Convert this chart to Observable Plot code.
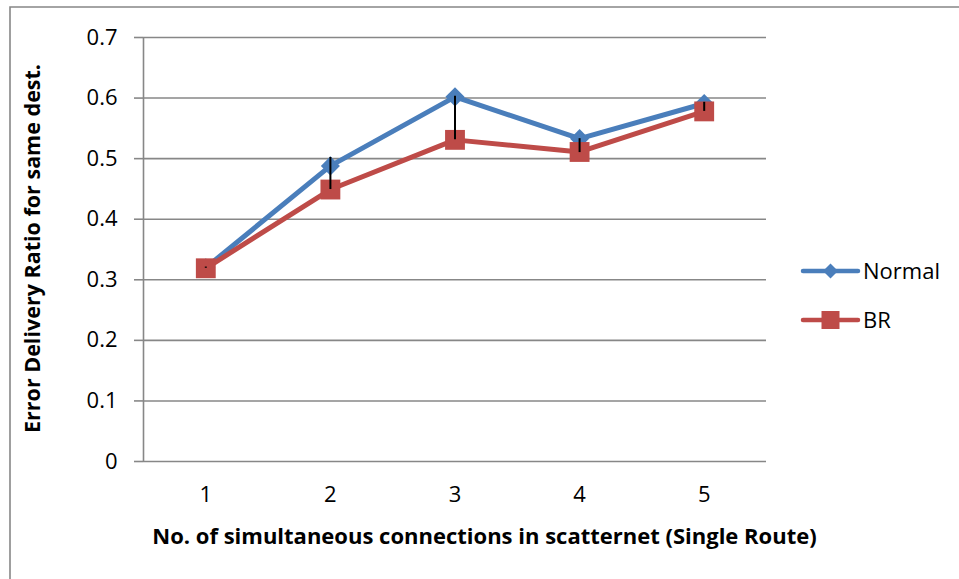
<!DOCTYPE html>
<html>
<head>
<meta charset="utf-8">
<script src="https://cdn.jsdelivr.net/npm/d3@7"></script>
<script src="https://cdn.jsdelivr.net/npm/@observablehq/plot@0.6"></script>
<style>
  html, body { margin: 0; padding: 0; background: #fff; }
  #wrap { position: relative; width: 959px; height: 579px; overflow: hidden; }
  #wrap svg { position: absolute; left: 0; top: 0; }
</style>
</head>
<body>
<div id="wrap"></div>
<script>
const categories = [1, 2, 3, 4, 5];
const normalValues = [0.320, 0.488, 0.602, 0.533, 0.591];
const brValues = [0.319, 0.449, 0.531, 0.511, 0.578];
const errTop = [0.321, 0.502, 0.603, 0.533, 0.593];
const errBottom = [0.319, 0.449, 0.531, 0.510, 0.578];
const yTicks = [0, 0.1, 0.2, 0.3, 0.4, 0.5, 0.6, 0.7];
const seriesNames = ["Normal", "BR"];
const xTitle = "No. of simultaneous connections in scatternet (Single Route)";
const yTitle = "Error Delivery Ratio for same dest.";

const blue = "#4a7ebb";
const red = "#be4b48";
const grid = "#878787";
const font = "'Open Sans', 'Liberation Sans', sans-serif";

const normal = categories.map((c, i) => ({x: c, y: normalValues[i]}));
const br = categories.map((c, i) => ({x: c, y: brValues[i]}));
const errs = categories.map((c, i) => ({x: c, y1: errBottom[i], y2: errTop[i]}));

const chart = Plot.plot({
  width: 959,
  height: 579,
  marginLeft: 143,
  marginRight: 193,
  marginTop: 37,
  marginBottom: 118,
  style: {fontFamily: font, background: "transparent", color: "#000"},
  x: {type: "linear", domain: [0.5, 5.5]},
  y: {domain: [0, 0.7]},
  marks: [
    Plot.gridY(yTicks.slice(1), {stroke: grid, strokeOpacity: 1, strokeWidth: 1.6}),
    Plot.ruleY([0], {stroke: grid, strokeWidth: 1.6}),
    Plot.ruleX([0.5], {stroke: grid, strokeWidth: 1.6}),
    Plot.axisY({ticks: yTicks, tickSize: 9, tickPadding: 17, stroke: grid, strokeWidth: 1.6,
      fontSize: 22, tickFormat: d => d === 0 ? "0" : d3.format(".1f")(d), label: null}),
    Plot.axisX({ticks: categories, tickSize: 0, tickPadding: 25, fontSize: 22, tickFormat: d3.format("d"), label: null}),
    Plot.line(normal, {x: "x", y: "y", stroke: blue, strokeWidth: 5, strokeLinejoin: "round"}),
    Plot.dot(normal, {x: "x", y: "y", symbol: "diamond2", r: 8.6, fill: blue, stroke: "none"}),
    Plot.line(br, {x: "x", y: "y", stroke: red, strokeWidth: 5, strokeLinejoin: "round"}),
    Plot.dot(br, {x: "x", y: "y", symbol: "square", r: 11.2, fill: red, stroke: "none"}),
    Plot.ruleX(errs, {x: "x", y1: "y1", y2: "y2", stroke: "#000", strokeWidth: 2}),
    Plot.text([xTitle], {frameAnchor: "bottom", textAnchor: "middle", lineAnchor: "middle", dx: 29.5, dy: 75, fontSize: 22, fontWeight: "bold", fill: "#000"}),
    Plot.text([yTitle], {frameAnchor: "left", textAnchor: "middle", lineAnchor: "middle", rotate: -90, dx: -110, dy: -1, fontSize: 21.5, fontWeight: "bold", fill: "#000"})
  ]
});
document.getElementById("wrap").appendChild(chart);

// Overlay: outer border and legend
const ov = d3.select("#wrap").append("svg")
  .attr("width", 959).attr("height", 579)
  .style("font-family", font);
ov.append("path")
  .attr("d", "M10,579V7H959")
  .attr("fill", "none").attr("stroke", grid).attr("stroke-width", 1.6);

const legendItems = [
  {name: seriesNames[0], color: blue, symbol: d3.symbolDiamond2, size: 15 * 15 / 2 / (0.62625 * 0.62625) / 2, y: 271},
  {name: seriesNames[1], color: red, symbol: d3.symbolSquare, size: 18 * 18, y: 320}
];
legendItems.forEach(it => {
  const g = ov.append("g").attr("transform", `translate(0,${it.y})`);
  g.append("line").attr("x1", 803).attr("x2", 858).attr("y1", 0).attr("y2", 0)
    .attr("stroke", it.color).attr("stroke-width", 4.5).attr("stroke-linecap", "round");
  g.append("path").attr("d", d3.symbol(it.symbol, it.size)())
    .attr("transform", "translate(830.5,0)").attr("fill", it.color);
  g.append("text").attr("x", 863).attr("y", 0).attr("dy", "0.35em")
    .attr("font-size", 22).attr("fill", "#000").text(it.name);
});
</script>
</body>
</html>
